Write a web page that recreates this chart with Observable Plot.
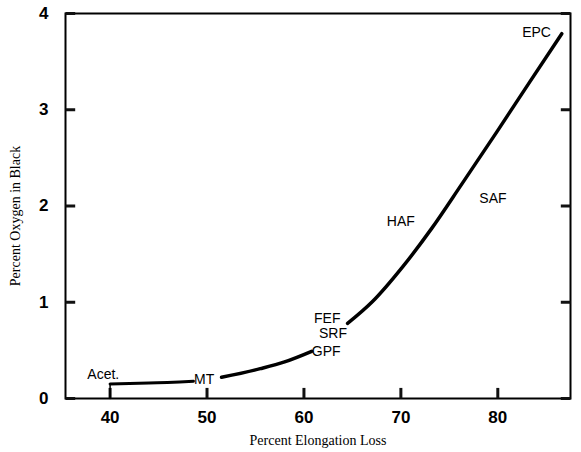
<!DOCTYPE html>
<html><head>
<meta charset="utf-8">
<script src="https://cdn.jsdelivr.net/npm/d3@7"></script>
<script src="https://cdn.jsdelivr.net/npm/@observablehq/plot@0.6"></script>
<style>
body{margin:0;background:#fff}
.tl text{font-family:"Liberation Sans",Arial,sans-serif;font-weight:bold;font-size:17px}
</style>
</head><body><div id="chart"></div>
<script>
const xTicks = [40, 50, 60, 70, 80];
const yTicks = [0, 1, 2, 3, 4];
const stepX = [40, 40];
const stepY = [0, 0.15];
const seg1X = [40, 44, 48.6];
const seg1Y = [0.15, 0.16, 0.18];
const seg2X = [51.5, 55.5, 58, 60.8];
const seg2Y = [0.22, 0.31, 0.38, 0.49];
const seg3X = [64.5, 67.1, 70.2, 73.2, 76.3, 79.9, 83.3, 86.6];
const seg3Y = [0.78, 1.01, 1.37, 1.77, 2.23, 2.77, 3.29, 3.79];
const labelText = ["Acet.", "MT", "GPF", "SRF", "FEF", "HAF", "SAF", "EPC"];
const labelX = [39.3, 49.7, 62.3, 63.0, 62.4, 70.0, 79.5, 84.0];
const labelY = [0.25, 0.20, 0.49, 0.67, 0.83, 1.84, 2.08, 3.80];

const xDom = [35.4, 87.5];
const yDom = [0, 4];
const pts = (xs, ys) => xs.map((x, i) => ({x, y: ys[i]}));
const labels = labelText.map((t, i) => ({t, x: labelX[i], y: labelY[i]}));
const tickX = xTicks.flatMap(v => [{k: "x" + v, x: v, y: yDom[0]}, {k: "x" + v, x: v, y: yDom[0] + 0.11}]);
const tickYL = yTicks.flatMap(v => [{k: "l" + v, x: xDom[0], y: v}, {k: "l" + v, x: xDom[0] + 1.0, y: v}]);
const tickYR = yTicks.flatMap(v => [{k: "r" + v, x: xDom[1] - 1.0, y: v}, {k: "r" + v, x: xDom[1], y: v}]);

const chart = Plot.plot({
  width: 581,
  height: 452,
  marginTop: 13,
  marginLeft: 65,
  marginRight: 11,
  marginBottom: 54,
  x: {domain: xDom},
  y: {domain: yDom},
  marks: [
    Plot.axisX(xTicks, {tickSize: 0, tickPadding: 12, className: "tl", label: null, fill: "#000", tickFormat: "d"}),
    Plot.axisY(yTicks, {tickSize: 0, tickPadding: 17, className: "tl", label: null, fill: "#000", tickFormat: "d"}),
    Plot.frame({stroke: "#000", strokeWidth: 2}),
    Plot.line([...tickX, ...tickYL, ...tickYR], {x: "x", y: "y", z: "k", stroke: "#111", strokeWidth: 3, strokeLinecap: "butt"}),
    Plot.line(pts(stepX, stepY), {x: "x", y: "y", stroke: "#000", strokeWidth: 1.5}),
    Plot.line(pts(seg1X, seg1Y), {x: "x", y: "y", stroke: "#000", strokeWidth: 3, curve: "monotone-x"}),
    Plot.line(pts(seg2X, seg2Y), {x: "x", y: "y", stroke: "#000", strokeWidth: 3.5, curve: "monotone-x"}),
    Plot.line(pts(seg3X, seg3Y), {x: "x", y: "y", stroke: "#000", strokeWidth: 3.5, curve: "monotone-x"}),
    Plot.text(labels, {x: "x", y: "y", text: "t", fontSize: 14, fill: "#000", fontFamily: "Liberation Sans, Arial, sans-serif"}),
    Plot.text(["Percent Elongation Loss"], {frameAnchor: "bottom", dy: 46, textAnchor: "middle", text: d => d, fontSize: 14, fill: "#000", fontFamily: "Liberation Serif, serif", letterSpacing: "1px"}),
    Plot.text(["Percent Oxygen in Black"], {frameAnchor: "left", dx: -50, dy: 10, rotate: -90, textAnchor: "middle", text: d => d, fontSize: 14, fill: "#000", fontFamily: "Liberation Serif, serif", letterSpacing: "1px"})
  ]
});
document.getElementById("chart").append(chart);
</script>
</body></html>
